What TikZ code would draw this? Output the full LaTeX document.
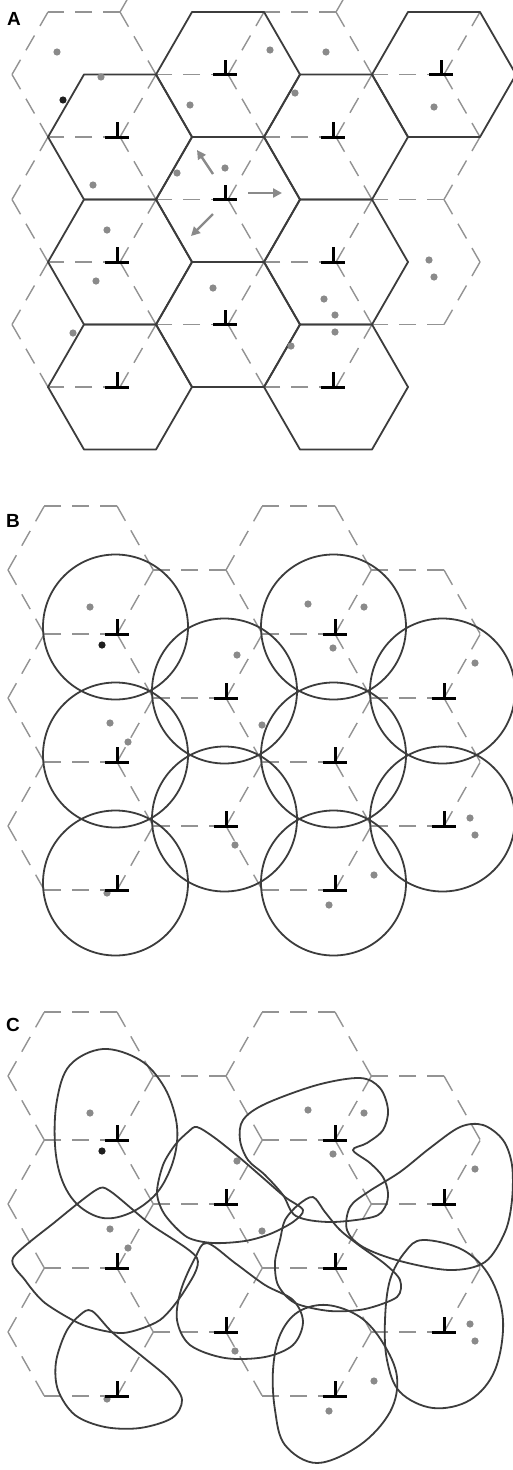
\documentclass[tikz,border=0pt]{standalone}
\usepackage{fontspec}
\setmainfont{Liberation Sans}
\usetikzlibrary{arrows.meta}
\definecolor{solidc}{HTML}{3C3C3C}
\definecolor{dashc}{HTML}{939393}
\definecolor{dotc}{HTML}{8A8A8A}
\definecolor{arrc}{HTML}{8A8A8A}
\begin{document}
\begin{tikzpicture}[x=1pt,y=-1pt,
  solidline/.style={draw=solidc, line width=1.8pt, line join=round},
  dashline/.style={draw=dashc, line width=1.4pt, dash pattern=on 17pt off 11pt},
  graydot/.style={fill=dotc},
  blackdot/.style={fill=black!88},
  arrowline/.style={draw=arrc, line width=2.4pt, -{Triangle[length=9pt,width=9pt]}},
  tee/.pic={\draw[line width=3pt] (-12,0) -- (12,0); \draw[line width=3pt] (0,1) -- (0,-15);},
  panellabel/.style={font=\fontsize{19}{19}\selectfont\bfseries, anchor=base west, inner sep=0pt}
]
\fill[white] (0,0) rectangle (513,1470);
\useasboundingbox (0,0) rectangle (513,1470);

% ---------------- Panel A ----------------
\node[panellabel] (labA) at (7,25) {A};
\foreach \x/\y/\l/\u/\d in {12/74.5/0/1/1, 12/199.5/0/1/1, 12/324.5/0/1/1,
  120/12/1/1/1, 120/137/1/1/1, 120/262/1/1/1, 120/387/1/1/0,
  228/74.5/1/1/1, 228/199.5/1/1/1, 228/324.5/1/1/1,
  336/12/1/1/1, 336/137/1/1/1, 336/262/1/1/1, 336/387/1/1/0,
  444/74.5/1/1/1, 444/199.5/1/1/1, 444/324.5/1/1/0}{
  \ifnum\l=1 \draw[dashline] (\x,\y) -- ++(-72,0); \fi
  \ifnum\u=1 \draw[dashline] (\x,\y) -- ++(36,-62.5); \fi
  \ifnum\d=1 \draw[dashline] (\x,\y) -- ++(36,62.5); \fi
}
\foreach \x/\y in {120/137,120/262,120/387,228/74.5,228/199.5,228/324.5,336/137,336/262,336/387,444/74.5}
  \draw[solidline] ({\x-72},\y) -- ++(36,-62.5) -- ++(72,0) -- ++(36,62.5) -- ++(-36,62.5) -- ++(-72,0) -- cycle;
\foreach \x/\y in {57/52,101/77,190/105,93/185,177/173,225/168,107/230,270/50,326/52,295/93,434/107,
  96/281,213/288,73/333,429/260,434/277,324/299,335/315,335/332,291/346}
  \fill[graydot] (\x,\y) circle[radius=3.6pt];
\fill[blackdot] (63,100) circle[radius=3.6pt];
\draw[arrowline] (213,174) -- (197,150);
\draw[arrowline] (248,193) -- (282,193);
\draw[arrowline] (213,214) -- (191,236);
\foreach \x/\y [count=\i] in {120/137,120/262,120/387,228/74.5,228/199.5,228/324.5,336/137,336/262,336/387,444/74.5}
  \pic (tA\i) at ({\x-3},\y) {tee};

% ---------------- Panel B ----------------
\node[panellabel] (labB) at (6,527) {B};
\foreach \x/\y/\l/\u/\d in {8/570/0/1/1, 8/698/0/1/1, 8/826/0/1/1,
  117/506/1/0/1, 117/634/1/1/1, 117/762/1/1/1, 117/890/1/1/0,
  226/570/1/1/1, 226/698/1/1/1, 226/826/1/1/1,
  335/506/1/0/1, 335/634/1/1/1, 335/762/1/1/1, 335/890/1/1/0,
  444/570/1/0/1, 444/698/1/1/1, 444/826/1/1/0}{
  \ifnum\l=1 \draw[dashline] (\x,\y) -- ++(-72.7,0); \fi
  \ifnum\u=1 \draw[dashline] (\x,\y) -- ++(36.3,-64); \fi
  \ifnum\d=1 \draw[dashline] (\x,\y) -- ++(36.3,64); \fi
}
\foreach \x/\y in {117/634,117/762,117/890,226/698,226/826,335/634,335/762,335/890,444/698,444/826}
  \draw[solidline] ({\x-1.5},{\y-7}) circle[radius=72.5pt];
\foreach \x/\y in {90/607,237/655,308/604,364/607,333/648,475/663,110/723,128/742,107/893,235/845,
  262/725,470/818,475/835,374/875,329/905}
  \fill[graydot] (\x,\y) circle[radius=3.6pt];
\fill[blackdot] (102,645) circle[radius=3.6pt];
\foreach \x/\y [count=\i] in {117/634,117/762,117/890,226/698,226/826,335/634,335/762,335/890,444/698,444/826}
  \pic (tB\i) at (\x,\y) {tee};

% ---------------- Panel C ----------------
\node[panellabel] (labC) at (6,1031) {C};
\foreach \x/\y/\l/\u/\d in {8/1076/0/1/1, 8/1204/0/1/1, 8/1332/0/1/1,
  117/1012/1/0/1, 117/1140/1/1/1, 117/1268/1/1/1, 117/1396/1/1/0,
  226/1076/1/1/1, 226/1204/1/1/1, 226/1332/1/1/1,
  335/1012/1/0/1, 335/1140/1/1/1, 335/1268/1/1/1, 335/1396/1/1/0,
  444/1076/1/0/1, 444/1204/1/1/1, 444/1332/1/1/0}{
  \ifnum\l=1 \draw[dashline] (\x,\y) -- ++(-72.7,0); \fi
  \ifnum\u=1 \draw[dashline] (\x,\y) -- ++(36.3,-64); \fi
  \ifnum\d=1 \draw[dashline] (\x,\y) -- ++(36.3,64); \fi
}
% domain 1 (egg)
\draw[solidline] plot[smooth cycle, tension=0.6] coordinates {(103,1049) (140,1060) (163,1085) (175,1115) (177,1142) (170,1170) (155,1195) (130,1213) (103,1218) (78,1205) (62,1180) (55,1145) (57,1100) (70,1065)};
% domain 2 (shield)
\draw[solidline] plot[smooth cycle, tension=0.45] coordinates {(13,1258) (55,1222) (96,1190) (110,1191) (150,1224) (197,1258) (185,1290) (160,1320) (123,1333) (83,1325) (45,1303) (25,1280)};
% domain 3 (teardrop)
\draw[solidline] plot[smooth cycle, tension=0.55] coordinates {(92,1311) (113,1333) (143,1357) (170,1380) (182,1400) (172,1418) (140,1428) (105,1427) (75,1415) (58,1390) (56,1362) (66,1332) (80,1315)};
% domain 4 (peak)
\draw[solidline] plot[smooth cycle, tension=0.5] coordinates {(197,1127) (215,1138) (240,1158) (262,1177) (285,1197) (303,1210) (293,1222) (270,1234) (245,1241) (213,1243) (187,1237) (165,1215) (157,1193) (163,1165) (175,1145) (188,1132)};
% domain 5
\draw[solidline] plot[smooth cycle, tension=0.55] coordinates {(207,1243) (235,1263) (265,1285) (293,1300) (303,1322) (293,1345) (265,1357) (225,1358) (190,1345) (177,1320) (181,1290) (195,1258)};
% domain 6 (notched)
\draw[solidline] plot[smooth cycle, tension=0.55] coordinates {(243,1120) (265,1104) (317,1085) (360,1078) (380,1088) (388,1110) (383,1130) (367,1143) (353,1150) (370,1163) (383,1177) (388,1193) (385,1207) (373,1217) (330,1222) (296,1216) (283,1195) (265,1175) (248,1160) (240,1140)};
% domain 7
\draw[solidline] plot[smooth cycle, tension=0.5] coordinates {(313,1197) (325,1212) (340,1230) (360,1246) (385,1264) (400,1280) (397,1297) (365,1309) (330,1311) (295,1303) (278,1285) (275,1262) (280,1240) (285,1220) (298,1205)};
% domain 8
\draw[solidline] plot[smooth cycle, tension=0.6] coordinates {(327,1305) (360,1317) (383,1343) (397,1377) (390,1412) (360,1445) (317,1463) (285,1445) (275,1410) (273,1370) (280,1335) (298,1312)};
% domain 9
\draw[solidline] plot[smooth cycle, tension=0.6] coordinates {(423,1240) (463,1250) (490,1277) (503,1320) (495,1370) (470,1400) (433,1408) (400,1392) (387,1360) (385,1320) (390,1280) (405,1252)};
% domain 10
\draw[solidline] plot[smooth cycle, tension=0.55] coordinates {(350,1207) (368,1192) (400,1172) (430,1148) (460,1127) (483,1125) (503,1140) (512,1165) (512,1200) (505,1232) (485,1262) (450,1270) (400,1261) (363,1247) (347,1230)};
\foreach \x/\y in {90/1113,237/1161,308/1110,364/1113,333/1154,475/1169,110/1229,128/1248,107/1399,235/1351,
  262/1231,470/1324,475/1341,374/1381,329/1411}
  \fill[graydot] (\x,\y) circle[radius=3.6pt];
\fill[blackdot] (102,1151) circle[radius=3.6pt];
\foreach \x/\y [count=\i] in {117/1140,117/1268,117/1396,226/1204,226/1332,335/1140,335/1268,335/1396,444/1204,444/1332}
  \pic (tC\i) at (\x,\y) {tee};
\end{tikzpicture}
\end{document}
